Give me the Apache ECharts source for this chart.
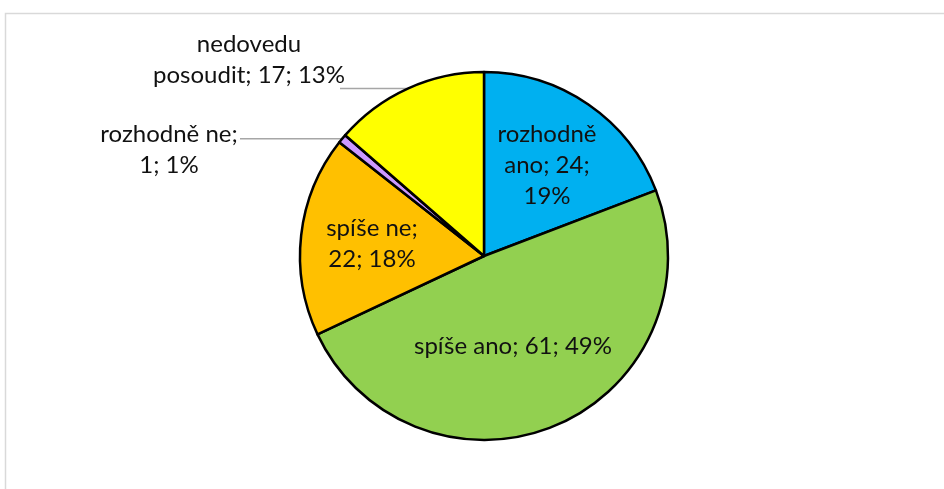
<!DOCTYPE html>
<html><head><meta charset="utf-8">
<script src="https://cdn.jsdelivr.net/npm/echarts@6/dist/echarts.min.js"></script>
<style>html,body{margin:0;padding:0;background:#fff}#c{width:944px;height:489px}</style>
</head><body><div id="c"></div>
<script>
var categories = ['rozhodně ano', 'spíše ano', 'spíše ne', 'rozhodně ne', 'nedovedu posoudit'];
var values = [24, 61, 22, 1, 17];
var percents = ['19%', '49%', '18%', '1%', '13%'];
var labelTexts = ['rozhodně\nano; 24;\n19%', 'spíše ano; 61; 49%', 'spíše ne;\n22; 18%', 'rozhodně ne;\n1; 1%', 'nedovedu\nposoudit; 17; 13%'];
var colors = ['#00B0F0', '#92D050', '#FFC000', '#CC99FF', '#FFFF00'];
// label centre x, centre y, x where leader line starts (null = no leader)
var labelPos = [[547, 165, null], [513, 346, null], [372, 244, null], [169, 150, 240], [249, 60, 340]];

var chart = echarts.init(document.getElementById('c'), null, {renderer: 'canvas'});
var data = categories.map(function (c, i) {
  return {
    name: c, value: values[i],
    itemStyle: {color: colors[i]},
    label: {formatter: labelTexts[i]},
    labelLine: {show: labelPos[i][2] !== null}
  };
});
chart.setOption({
  animation: false,
  graphic: [{
    type: 'rect', shape: {x: 5.5, y: 13.5, width: 1000, height: 600},
    style: {fill: 'none', stroke: '#D9D9D9', lineWidth: 1.5}, silent: true
  }],
  series: [{
    type: 'pie',
    center: [484, 256],
    radius: [0, 184],
    startAngle: 90,
    clockwise: true,
    data: data,
    itemStyle: {borderColor: '#000', borderWidth: 2.5},
    label: {
      show: true, position: 'outside', color: '#111',
      fontFamily: 'Lato', fontSize: 24, lineHeight: 31, align: 'center'
    },
    labelLine: {show: true, lineStyle: {color: '#A6A6A6', width: 1.5}, length: 10, length2: 10},
    labelLayout: function (p) {
      var lp = labelPos[p.dataIndex];
      var res = {x: lp[0], y: lp[1], align: 'center', verticalAlign: 'middle', hideOverlap: false};
      if (lp[2] !== null && p.labelLinePoints) {
        var e = p.labelLinePoints[0];
        res.labelLinePoints = [[e[0], e[1]], [lp[2], e[1]], [lp[2], e[1]]];
      }
      return res;
    }
  }]
});
</script></body></html>
